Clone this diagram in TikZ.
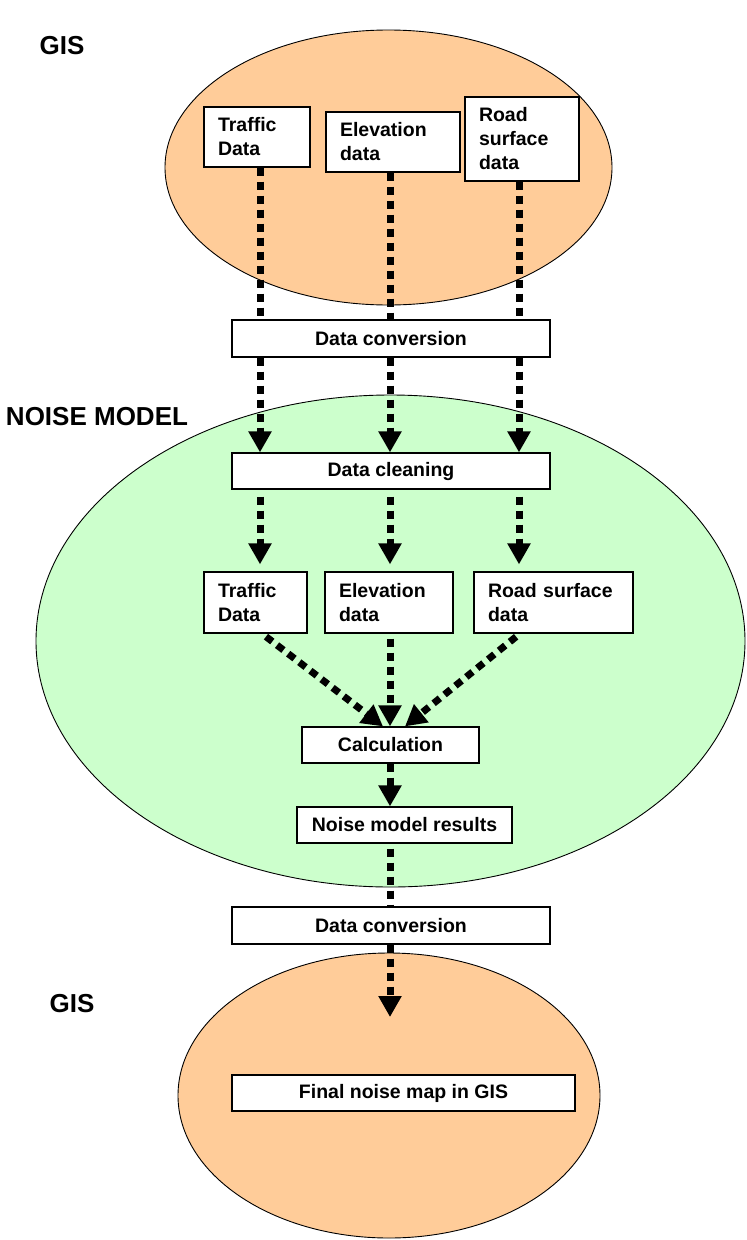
\documentclass[tikz,border=0pt]{standalone}
\usepackage{fontspec}
\setmainfont{Liberation Sans}
\usetikzlibrary{arrows.meta,calc}
\definecolor{peach}{HTML}{FFCC99}
\definecolor{mint}{HTML}{CCFFCC}
\pgfdeclarelayer{bg}
\pgfdeclarelayer{mid}
\pgfsetlayers{bg,mid,main}
\begin{document}
\begin{tikzpicture}[x=1pt,y=-1pt,
  region/.style={draw=black,line width=0.9pt},
  box/.style={draw=black,fill=white,line width=1.2pt,font=\fontsize{19.5}{24}\selectfont\bfseries,inner ysep=0pt,inner xsep=14pt,align=left},
  cbox/.style={draw=black,fill=white,line width=1.2pt,font=\fontsize{19.5}{24}\selectfont\bfseries,inner sep=0pt,align=center},
  lab/.style={font=\fontsize{26}{30}\selectfont\bfseries,inner sep=0pt},
  dotline/.style={line width=7pt,dash pattern=on 8pt off 6pt},
  dotarrow/.style={dotline,-{Triangle[width=22pt,length=21pt]}}]
\useasboundingbox (0,0) rectangle (747,1240);
% labels
\node[lab] (gis1) at (62,46) {GIS};
\node[lab] (nm) at (97,417) {NOISE MODEL};
\node[lab] (gis2) at (72,1004) {GIS};
% boxes
\node[box,text width=78pt,minimum height=60pt] (tt) at (257,137) {Traffic\\Data};
\node[box,text width=106pt,minimum height=60pt] (te) at (393,142) {Elevation\\data};
\node[box,text width=86pt,minimum height=84pt] (tr) at (522,139) {Road\\surface\\data};
\node[cbox,minimum width=318pt,minimum height=37pt] (conv1) at (391,338.5) {Data conversion};
\node[cbox,minimum width=318pt,minimum height=36pt] (clean) at (391,471) {Data cleaning};
\node[box,text width=75pt,minimum height=61pt] (mt) at (255.5,602.5) {Traffic\\Data};
\node[box,text width=100pt,minimum height=61pt] (me) at (389,602.5) {Elevation\\data};
\node[box,text width=131pt,minimum height=61pt] (mr) at (553.5,602.5) {Road surface\\data};
\node[cbox,minimum width=177pt,minimum height=36pt] (calc) at (390.5,745) {Calculation};
\node[cbox,minimum width=215pt,minimum height=36pt] (res) at (404.5,825) {Noise model results};
\node[cbox,minimum width=318pt,minimum height=37pt] (conv2) at (391,925.5) {Data conversion};
\node[cbox,minimum width=343pt,minimum height=36pt] (final) at (403.5,1093) {Final noise map in GIS};
% columns
\coordinate (colA) at (260,0);
\coordinate (colB) at (390,0);
\coordinate (colC) at (519,0);
\coordinate (endp) at (390,1017);
% regions
\begin{pgfonlayer}{bg}
\fill[white] (0,0) rectangle (747,1240);
\draw[region,fill=peach] (388.5,167.5) ellipse [x radius=223.5, y radius=137.5];
\draw[region,fill=mint] (390.5,641) ellipse [x radius=354.5, y radius=246];
\draw[region,fill=peach] (389,1095.5) ellipse [x radius=211, y radius=142.5];
\end{pgfonlayer}
% connectors
\begin{pgfonlayer}{mid}
\draw[dotline] (tt.south -| colA) -- (conv1.north -| colA);
\draw[dotline] (te.south -| colB) -- (conv1.north -| colB);
\draw[dotline] (tr.south -| colC) -- (conv1.north -| colC);
\draw[dotarrow] (conv1.south -| colA) -- (clean.north -| colA);
\draw[dotarrow] (conv1.south -| colB) -- (clean.north -| colB);
\draw[dotarrow] (conv1.south -| colC) -- (clean.north -| colC);
\draw[dotarrow,shorten <=7pt,shorten >=7pt] (clean.south -| colA) -- (mt.north -| colA);
\draw[dotarrow,shorten <=7pt,shorten >=7pt] (clean.south -| colB) -- (me.north -| colB);
\draw[dotarrow,shorten <=7pt,shorten >=7pt] (clean.south -| colC) -- (mr.north -| colC);
\draw[dotarrow,shorten <=5pt] ([xshift=6.5pt]mt.south) -- ([xshift=-7.5pt]calc.north);
\draw[dotarrow,shorten <=5pt] (me.south -| colB) -- (calc.north -| colB);
\draw[dotarrow,shorten <=5pt] ([xshift=-33.5pt]mr.south) -- ([xshift=14.5pt]calc.north);
\draw[dotarrow] (calc.south -| colB) -- (res.north -| colB);
\draw[dotline,shorten <=5pt] (res.south -| colB) -- (conv2.north -| colB);
\draw[dotarrow] (conv2.south -| colB) -- (endp);
\end{pgfonlayer}
\end{tikzpicture}
\end{document}
